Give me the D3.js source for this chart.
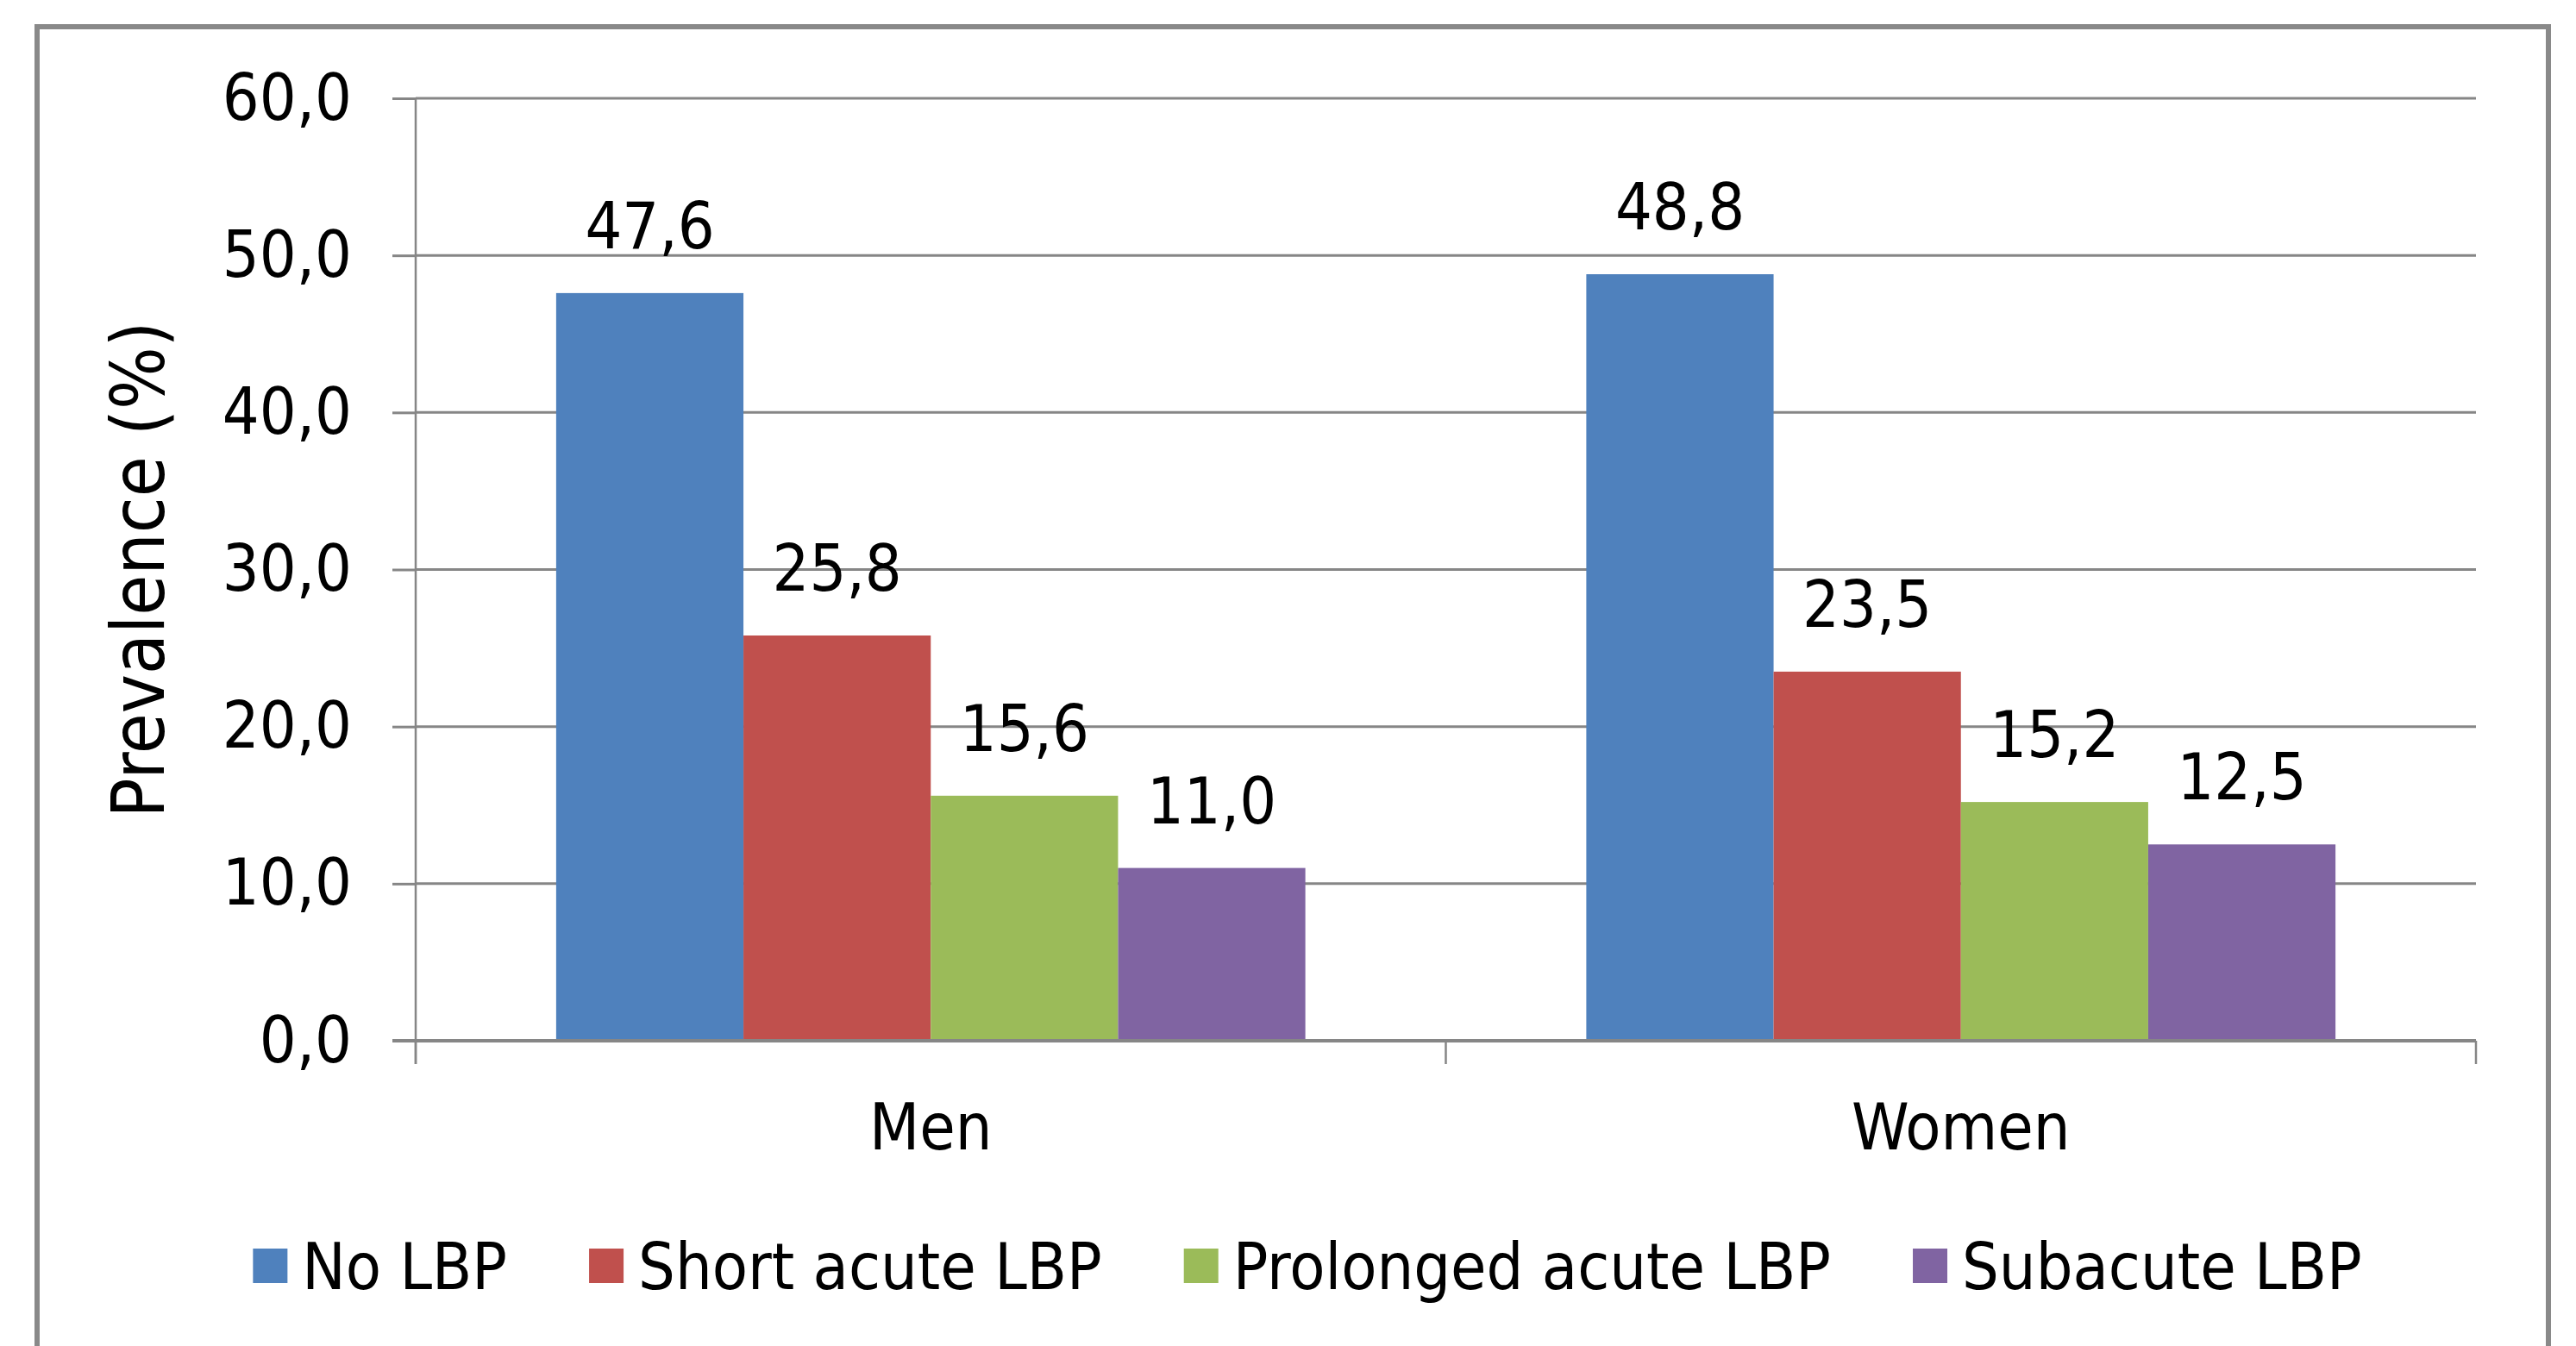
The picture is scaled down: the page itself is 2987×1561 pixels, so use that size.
<!DOCTYPE html>
<html>
<head>
<meta charset="utf-8">
<script src="https://cdn.jsdelivr.net/npm/d3@7"></script>
<style>
  html, body { margin: 0; padding: 0; background: #fff; }
  text { font-family: "DejaVu Sans Condensed", "DejaVu Sans", sans-serif; font-stretch: condensed; fill: #000; }
</style>
</head>
<body>
<svg id="chart" width="2987" height="1561"></svg>
<script>
// Data
const categories = ['Men', 'Women']
const series = ['No LBP', 'Short acute LBP', 'Prolonged acute LBP', 'Subacute LBP']
const colours = ['#4F81BD', '#C0504D', '#9BBB59', '#8064A2']
const values = {
    'Men': [47.6, 25.8, 15.6, 11.0],
    'Women': [48.8, 23.5, 15.2, 12.5]
}
const yTicks = [0, 10, 20, 30, 40, 50, 60]
const yTitle = 'Prevalence (%)'

const svg = d3.select('#chart')

let plotLeft = 482,
    plotRight = 2871,
    plotTop = 114,
    plotBottom = 1207,
    fontSize = 75

// comma decimal, like the original
const locale = d3.formatLocale({ decimal: ',', thousands: '.', grouping: [3], currency: ['', ''] })
const fmt = locale.format('.1f')

let yScale = d3.scaleLinear().domain([0, 60]).range([plotBottom, plotTop]),
    xCat = d3.scaleBand().domain(categories).range([plotLeft, plotRight]).padding(0),
    xSub = d3.scaleBand().domain(series).range([0, xCat.bandwidth()]).paddingInner(0).paddingOuter(0.75),
    colour = d3.scaleOrdinal().domain(series).range(colours)

// outer frame
svg.append('rect')
    .attr('x', 43)
    .attr('y', 31)
    .attr('width', 2912)
    .attr('height', 1600)
    .attr('fill', 'none')
    .attr('stroke', '#898989')
    .attr('stroke-width', 6)

// gridlines
svg.append('g')
    .attr('id', 'grid')
    .selectAll('line')
    .data(yTicks.filter(d => d > 0))
    .enter()
    .append('line')
    .attr('x1', plotLeft)
    .attr('x2', plotRight)
    .attr('y1', d => yScale(d))
    .attr('y2', d => yScale(d))
    .attr('stroke', '#868686')
    .attr('stroke-width', 3)

// bars
let groups = svg.append('g')
    .attr('id', 'bars')
    .selectAll('g')
    .data(categories)
    .enter()
    .append('g')
    .attr('transform', d => `translate(${xCat(d)},0)`)

groups.selectAll('rect')
    .data(c => series.map((s, i) => ({ s: s, v: values[c][i] })))
    .enter()
    .append('rect')
    .attr('x', d => xSub(d.s))
    .attr('width', xSub.bandwidth())
    .attr('y', d => yScale(d.v))
    .attr('height', d => plotBottom - yScale(d.v))
    .attr('fill', d => colour(d.s))

groups.selectAll('text')
    .data(c => series.map((s, i) => ({ s: s, v: values[c][i] })))
    .enter()
    .append('text')
    .attr('x', d => xSub(d.s) + xSub.bandwidth() / 2)
    .attr('y', d => yScale(d.v) - 52)
    .attr('text-anchor', 'middle')
    .attr('font-size', fontSize)
    .text(d => fmt(d.v))

// y axis
let yAxis = svg.append('g')
    .attr('transform', `translate(${plotLeft},0)`)
    .call(d3.axisLeft(yScale).tickValues(yTicks).tickSize(27).tickPadding(47).tickFormat(fmt))

yAxis.select('.domain').remove()
yAxis.selectAll('line').attr('stroke', '#868686').attr('stroke-width', 3)
yAxis.selectAll('text')
    .attr('font-size', fontSize)
    .attr('fill', '#000')
yAxis.attr('font-family', null).attr('font-size', null)

svg.append('line')
    .attr('x1', plotLeft).attr('x2', plotLeft)
    .attr('y1', plotTop).attr('y2', plotBottom + 27)
    .attr('stroke', '#868686')
    .attr('stroke-width', 2.5)

// x axis
svg.append('line')
    .attr('x1', plotLeft - 27).attr('x2', plotRight)
    .attr('y1', plotBottom).attr('y2', plotBottom)
    .attr('stroke', '#868686')
    .attr('stroke-width', 4)

svg.append('g')
    .attr('id', 'xticks')
    .selectAll('line')
    .data(categories.map(c => xCat(c)).concat([plotRight]))
    .enter()
    .append('line')
    .attr('x1', d => d).attr('x2', d => d)
    .attr('y1', plotBottom).attr('y2', plotBottom + 27)
    .attr('stroke', '#868686')
    .attr('stroke-width', 2.5)

svg.append('g')
    .attr('id', 'xlabels')
    .selectAll('text')
    .data(categories)
    .enter()
    .append('text')
    .attr('x', d => xCat(d) + xCat.bandwidth() / 2)
    .attr('y', 1333)
    .attr('text-anchor', 'middle')
    .attr('font-size', fontSize)
    .text(d => d)

// y title
svg.append('text')
    .attr('transform', `translate(190,${(plotTop + plotBottom) / 2}) rotate(-90)`)
    .attr('text-anchor', 'middle')
    .attr('font-size', 85)
    .text(yTitle)

// legend
let legend = svg.append('g').attr('id', 'legend')
let lx = 0
series.forEach((s, i) => {
    let item = legend.append('g').attr('transform', `translate(${lx},0)`)
    item.append('rect')
        .attr('x', 0).attr('y', 1448)
        .attr('width', 40).attr('height', 40)
        .attr('fill', colour(s))
    let t = item.append('text')
        .attr('x', 57).attr('y', 1495)
        .attr('font-size', fontSize)
        .text(s)
    lx += 57 + t.node().getComputedTextLength() + 95
})
let legendWidth = lx - 95
legend.attr('transform', `translate(${1516 - legendWidth / 2},0)`)
</script>
</body>
</html>
